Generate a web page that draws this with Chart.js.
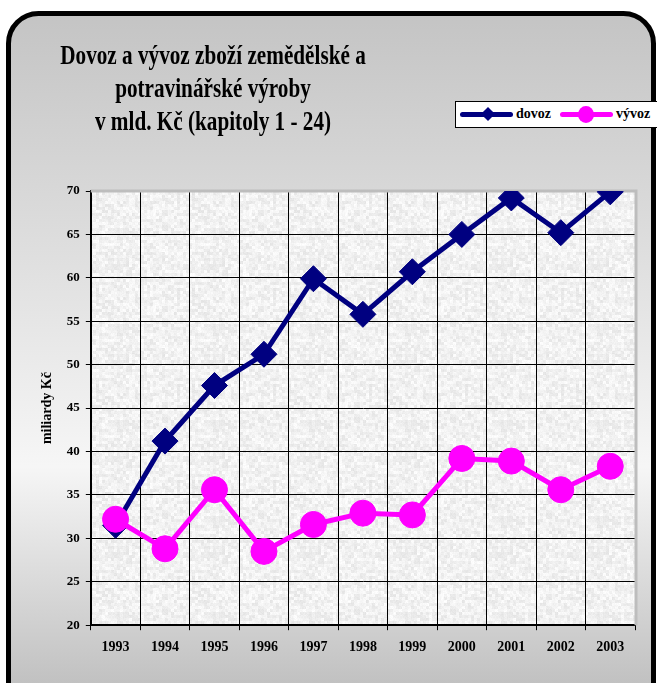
<!DOCTYPE html>
<html>
<head>
<meta charset="utf-8">
<script src="https://cdn.jsdelivr.net/npm/chart.js@4.4.1/dist/chart.umd.min.js"></script>
<style>
    html, body { margin: 0; padding: 0; background: #fff; overflow: hidden; }
    #wrap { position: relative; width: 657px; height: 683px; }
    #chart { position: absolute; left: 0; top: 0; }
    #title {
        position: absolute; left: 13px; top: 39px; width: 400px;
        text-align: center; font: bold 27px "Liberation Serif", serif;
        line-height: 33px; color: #000; white-space: nowrap;
        transform: scaleX(0.785); transform-origin: 50% 0;
    }
    #legend {
        position: absolute; left: 455px; top: 101px; width: 210px; height: 27px;
        border: 1px solid #000; background: #fff; box-sizing: border-box;
        font: bold 14px "Liberation Serif", serif; color: #000;
    }
    .item { position: absolute; top: 0; height: 25px; }
    .line { position: absolute; top: 10px; width: 53px; height: 5px; border-radius: 3px; }
    .mark { position: absolute; }
    .label { position: absolute; top: 4px; }
</style>
</head>
<body>
<div id="wrap">
    <canvas id="chart" width="657" height="683"></canvas>
    <div id="title">Dovoz a vývoz zboží zemědělské a<br>potravinářské výroby<br>v mld. Kč (kapitoly 1 - 24)</div>
    <div id="legend"></div>
</div>
<script>
const years = ['1993', '1994', '1995', '1996', '1997', '1998', '1999', '2000', '2001', '2002', '2003'];
const dovoz = [31.5, 41.2, 47.6, 51.2, 59.9, 55.8, 60.7, 65.0, 69.2, 65.2, 69.9];
const vyvoz = [32.2, 28.8, 35.6, 28.5, 31.6, 32.9, 32.7, 39.2, 38.9, 35.6, 38.3];
const yMin = 20;
const yMax = 70;
const yStep = 5;

const navy = '#000080';
const pink = '#ff00ff';
const serif = '"Liberation Serif", serif';
const xFont = { family: serif, size: 14, weight: 'bold' };
const yFont = { family: serif, size: 13, weight: 'bold' };
const axisTitleFont = { family: serif, size: 14, weight: 'bold' };

// legend drawn as html
const legendItems = [
    { text: 'dovoz', color: navy, diamond: true, x: 4 },
    { text: 'vývoz', color: pink, diamond: false, x: 104 }
];
const legend = document.getElementById('legend');
legendItems.forEach(it => {
    const item = document.createElement('div');
    item.className = 'item';
    item.style.left = it.x + 'px';
    const line = document.createElement('div');
    line.className = 'line';
    line.style.background = it.color;
    item.appendChild(line);
    const mark = document.createElement('div');
    mark.className = 'mark';
    mark.style.background = it.color;
    if (it.diamond) {
        mark.style.left = '23px'; mark.style.top = '7px';
        mark.style.width = '10px'; mark.style.height = '10px';
        mark.style.transform = 'rotate(45deg)';
    } else {
        mark.style.left = '18px'; mark.style.top = '4px';
        mark.style.width = '16px'; mark.style.height = '17px';
        mark.style.borderRadius = '50%';
    }
    item.appendChild(mark);
    const label = document.createElement('div');
    label.className = 'label';
    label.style.left = '56px';
    label.textContent = it.text;
    item.appendChild(label);
    legend.appendChild(item);
});

// granite-like fill for the plot area (fixed hash, no randomness)
function granitePattern(ctx) {
    const c = document.createElement('canvas');
    c.width = 96; c.height = 96;
    const g = c.getContext('2d');
    const img = g.createImageData(96, 96);
    const hash = (x, y) => {
        const s = Math.sin(x * 12.9898 + y * 78.233) * 43758.5453;
        return s - Math.floor(s);
    };
    for (let y = 0; y < 96; y++) {
        for (let x = 0; x < 96; x++) {
            const a = hash(Math.floor(x / 3), Math.floor(y / 3));
            const b = hash(x, y);
            const v = Math.round(226 + a * 22 + b * 8);
            const i = (y * 96 + x) * 4;
            img.data[i] = v; img.data[i + 1] = v; img.data[i + 2] = v; img.data[i + 3] = 255;
        }
    }
    g.putImageData(img, 0, 0);
    return ctx.createPattern(c, 'repeat');
}

const frameBg = {
    id: 'frameBg',
    beforeDraw(chart) {
        const ctx = chart.ctx;
        const a = chart.chartArea;
        ctx.save();
        ctx.fillStyle = '#fff';
        ctx.fillRect(0, 0, chart.width, chart.height);
        const g = ctx.createLinearGradient(0, 13, 0, 700);
        g.addColorStop(0, '#c4c4c4');
        g.addColorStop(0.66, '#f6f6f6');
        g.addColorStop(1, '#bdbdbd');
        ctx.beginPath();
        ctx.roundRect(8.5, 13.5, 645, 700, 30);
        ctx.fillStyle = g;
        ctx.fill();
        ctx.lineWidth = 5;
        ctx.strokeStyle = '#000';
        ctx.stroke();
        ctx.fillStyle = granitePattern(ctx);
        ctx.fillRect(a.left, a.top, a.right - a.left, a.bottom - a.top);
        ctx.restore();
    },
    beforeDatasetsDraw(chart) {
        const ctx = chart.ctx;
        const a = chart.chartArea;
        ctx.save();
        ctx.strokeStyle = '#bdbdbd';
        ctx.lineWidth = 3;
        ctx.beginPath();
        ctx.moveTo(a.left, a.top);
        ctx.lineTo(a.right + 1, a.top);
        ctx.lineTo(a.right + 1, a.bottom);
        ctx.stroke();
        ctx.restore();
    }
};

new Chart(document.getElementById('chart').getContext('2d'), {
    type: 'line',
    data: {
        labels: years,
        datasets: [{
            label: 'dovoz',
            data: dovoz,
            borderColor: navy,
            backgroundColor: navy,
            borderWidth: 5,
            pointStyle: 'rectRot',
            pointRadius: 13,
            pointBorderWidth: 1,
            pointBackgroundColor: navy,
            pointBorderColor: navy,
            order: 1
        }, {
            label: 'vývoz',
            data: vyvoz,
            borderColor: pink,
            backgroundColor: pink,
            borderWidth: 5,
            pointStyle: 'circle',
            pointRadius: 13,
            pointBorderWidth: 1,
            pointBackgroundColor: pink,
            pointBorderColor: pink,
            order: 0
        }]
    },
    options: {
        responsive: false,
        animation: false,
        devicePixelRatio: 1,
        layout: { padding: { left: 39, right: 22, top: 191, bottom: 18 } },
        plugins: {
            legend: { display: false },
            title: { display: false },
            tooltip: { enabled: false }
        },
        scales: {
            x: {
                offset: true,
                grid: { color: '#000', lineWidth: 1, offset: true, tickLength: 5 },
                border: { color: '#000', width: 2 },
                ticks: { font: xFont, color: '#000', padding: 9 }
            },
            y: {
                min: yMin,
                max: yMax,
                grid: { color: '#000', lineWidth: 1, tickLength: 5 },
                border: { color: '#000', width: 2 },
                ticks: { stepSize: yStep, font: yFont, color: '#000', padding: 6 },
                title: {
                    display: true, text: 'miliardy Kč', font: axisTitleFont, color: '#000',
                    padding: { top: 0, bottom: 5 }
                }
            }
        }
    },
    plugins: [frameBg]
});
</script>
</body>
</html>
